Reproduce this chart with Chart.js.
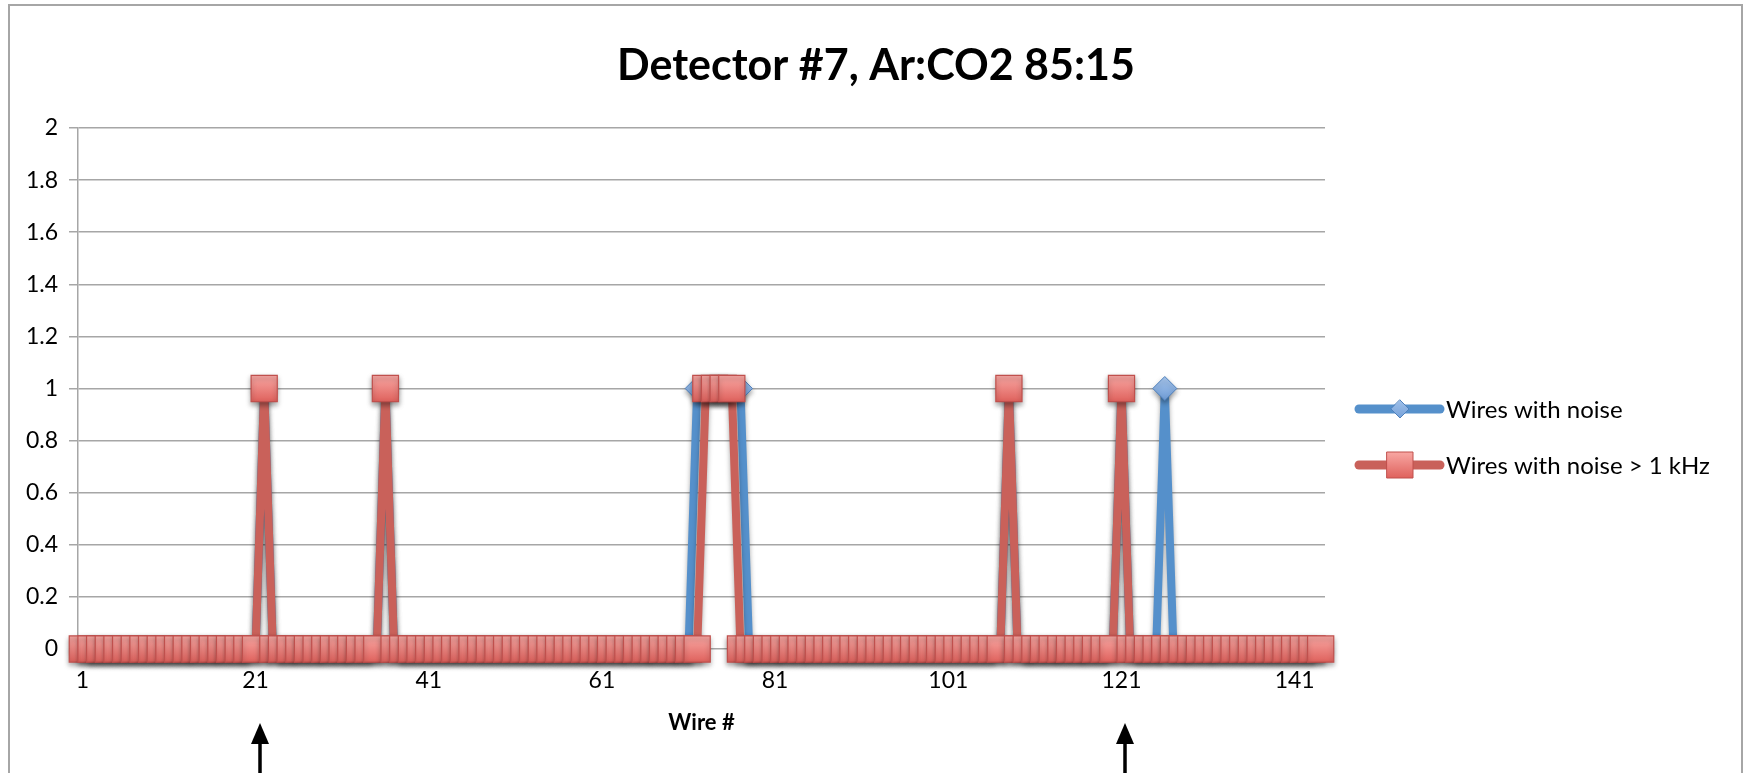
<!DOCTYPE html>
<html>
<head>
<meta charset="utf-8">
<title>Detector #7, Ar:CO2 85:15</title>
<script src="https://cdn.jsdelivr.net/npm/chart.js@4.4.1/dist/chart.umd.min.js"></script>
<style>
  html, body { margin: 0; padding: 0; background: #fff; }
  #wrap { width: 1745px; height: 773px; }
</style>
</head>
<body>
<div id="wrap"><canvas id="noiseChart" width="1745" height="773"></canvas></div>
<script>
// wire numbers 1..144 on the category axis
const WIRES = Array.from({ length: 144 }, (_, i) => i + 1);
const X_TICKS = [1, 21, 41, 61, 81, 101, 121, 141];
const ARROW_WIRES = [21, 121];

const TITLE = 'Detector #7, Ar:CO2 85:15';
const X_TITLE = 'Wire #';
const SERIES_NAMES = ['Wires with noise', 'Wires with noise > 1 kHz'];

// one value per wire, rows of ten (1-10, 11-20, ...)
const noiseAll = [
  0,0,0,0,0,0,0,0,0,0,
  0,0,0,0,0,0,0,0,0,0,
  0,1,0,0,0,0,0,0,0,0,
  0,0,0,0,0,1,0,0,0,0,
  0,0,0,0,0,0,0,0,0,0,
  0,0,0,0,0,0,0,0,0,0,
  0,0,0,0,0,0,0,0,0,0,
  0,1,1,1,1,1,1,0,0,0,
  0,0,0,0,0,0,0,0,0,0,
  0,0,0,0,0,0,0,0,0,0,
  0,0,0,0,0,0,0,1,0,0,
  0,0,0,0,0,0,0,0,0,0,
  1,0,0,0,0,1,0,0,0,0,
  0,0,0,0,0,0,0,0,0,0,
  0,0,0,0
];
const noiseHigh = [
  0,0,0,0,0,0,0,0,0,0,
  0,0,0,0,0,0,0,0,0,0,
  0,1,0,0,0,0,0,0,0,0,
  0,0,0,0,0,1,0,0,0,0,
  0,0,0,0,0,0,0,0,0,0,
  0,0,0,0,0,0,0,0,0,0,
  0,0,0,0,0,0,0,0,0,0,
  0,0,1,1,1,1,0,0,0,0,
  0,0,0,0,0,0,0,0,0,0,
  0,0,0,0,0,0,0,0,0,0,
  0,0,0,0,0,0,0,1,0,0,
  0,0,0,0,0,0,0,0,0,0,
  1,0,0,0,0,0,0,0,0,0,
  0,0,0,0,0,0,0,0,0,0,
  0,0,0,0
];

const Y_MIN = 0, Y_MAX = 2, Y_STEP = 0.2;

const BLUE = { line: '#5590CB', top: '#A8C7EE', bottom: '#6E9BD5', edge: '#4F81BD' };
const RED  = { line: '#C9615A', top: '#F8A7A3', bottom: '#DF625D', edge: '#C0504D' };
const FONT = 'Lato, "Open Sans", sans-serif';

Chart.defaults.font.family = FONT;
Chart.defaults.color = '#000';

// light-to-dark fill for each marker, built where the marker sits
function markerFill(c, half){
  return (context) => {
    const chart = context.chart;
    const ys = chart.scales && chart.scales.y;
    if (!ys || !context.parsed) return c.bottom;
    const y = ys.getPixelForValue(context.parsed.y);
    if (!isFinite(y)) return c.bottom;
    const g = chart.ctx.createLinearGradient(0, y - half, 0, y + half);
    g.addColorStop(0, c.top);
    g.addColorStop(1, c.bottom);
    return g;
  };
}

// frame, title, legend and the two arrows under the axis
const decor = {
  id: 'decor',
  beforeDraw(chart){
    const ctx = chart.ctx;
    ctx.save();
    ctx.fillStyle = '#fff';
    ctx.fillRect(0, 0, chart.width, chart.height);
    ctx.strokeStyle = '#a6a6a6';
    ctx.lineWidth = 2;
    ctx.strokeRect(9, 5, 1733, 820);
    ctx.restore();
  },
  beforeDatasetsDraw(chart){
    const ctx = chart.ctx;
    ctx.save();
    ctx.shadowColor = 'rgba(0,0,0,0.35)';
    ctx.shadowBlur = 5;
    ctx.shadowOffsetY = 3;
  },
  afterDatasetsDraw(chart){
    chart.ctx.restore();
  },
  afterDraw(chart){
    const ctx = chart.ctx;
    ctx.save();
    ctx.fillStyle = '#000';
    ctx.textAlign = 'center';
    ctx.textBaseline = 'middle';
    ctx.font = 'bold 43px ' + FONT;
    ctx.fillText(TITLE, 876, 66);

    // legend
    const rows = [
      { c: BLUE, style: 'diamond', y: 409 },
      { c: RED,  style: 'square',  y: 465 }
    ];
    rows.forEach((r, i) => {
      ctx.strokeStyle = r.c.line;
      ctx.lineWidth = 9;
      ctx.lineCap = 'round';
      ctx.beginPath();
      ctx.moveTo(1359, r.y);
      ctx.lineTo(1440, r.y);
      ctx.stroke();
      const g = ctx.createLinearGradient(0, r.y - 13, 0, r.y + 13);
      g.addColorStop(0, r.c.top);
      g.addColorStop(1, r.c.bottom);
      ctx.fillStyle = g;
      ctx.strokeStyle = r.c.edge;
      ctx.lineWidth = 1;
      ctx.beginPath();
      if (r.style === 'diamond'){
        ctx.moveTo(1400, r.y - 9); ctx.lineTo(1409, r.y);
        ctx.lineTo(1400, r.y + 9); ctx.lineTo(1391, r.y);
        ctx.closePath();
      } else {
        ctx.rect(1387, r.y - 13, 26, 26);
      }
      ctx.fill();
      ctx.stroke();
      ctx.fillStyle = '#000';
      ctx.textAlign = 'left';
      ctx.font = '24px ' + FONT;
      ctx.fillText(SERIES_NAMES[i], 1446, r.y + 1);
    });

    // arrows pointing at wires 21 and 121
    const xs = chart.scales.x;
    ctx.fillStyle = '#000';
    ctx.strokeStyle = '#000';
    ctx.lineWidth = 3.5;
    ctx.lineCap = 'butt';
    ARROW_WIRES.forEach(w => {
      const x = Math.round(xs.getPixelForValue(WIRES.indexOf(w))) + 4;
      ctx.beginPath();
      ctx.moveTo(x, 740);
      ctx.lineTo(x, 773);
      ctx.stroke();
      ctx.beginPath();
      ctx.moveTo(x, 723);
      ctx.lineTo(x + 9, 744);
      ctx.lineTo(x - 9, 744);
      ctx.closePath();
      ctx.fill();
    });
    ctx.restore();
  }
};

const ctx = document.getElementById('noiseChart').getContext('2d');
new Chart(ctx, {
  type: 'line',
  data: {
    labels: WIRES,
    datasets: [
      {
        label: SERIES_NAMES[0],
        data: noiseAll,
        order: 2,
        borderColor: BLUE.line,
        borderWidth: 8,
        borderJoinStyle: 'round',
        pointStyle: 'rectRot',
        pointRadius: 12,
        pointBackgroundColor: markerFill(BLUE, 12),
        pointBorderColor: BLUE.edge,
        pointBorderWidth: 1,
        tension: 0,
        clip: false
      },
      {
        label: SERIES_NAMES[1],
        data: noiseHigh,
        order: 1,
        borderColor: RED.line,
        borderWidth: 8,
        borderJoinStyle: 'round',
        pointStyle: 'rect',
        pointRadius: 18.5,
        pointBackgroundColor: markerFill(RED, 13),
        pointBorderColor: RED.edge,
        pointBorderWidth: 1.2,
        tension: 0,
        clip: false
      }
    ]
  },
  options: {
    responsive: false,
    animation: false,
    events: [],
    layout: { padding: { left: 0, right: 420, top: 128, bottom: 0 } },
    plugins: {
      legend: { display: false },
      title: { display: false },
      tooltip: { enabled: false }
    },
    scales: {
      x: {
        type: 'category',
        offset: true,
        grid: { display: false },
        border: { display: false },
        ticks: {
          autoSkip: false,
          maxRotation: 0,
          padding: 10,
          font: { size: 23 },
          color: '#000',
          callback(value, index){
            const w = WIRES[index];
            return X_TICKS.includes(w) ? String(w) : '';
          }
        },
        title: {
          display: true,
          text: X_TITLE,
          font: { size: 22, weight: 'bold' },
          color: '#000',
          padding: { top: 0, bottom: 37 }
        },
        afterFit(axis){ axis.height = 124; }
      },
      y: {
        min: Y_MIN,
        max: Y_MAX,
        grid: { color: '#a6a6a6', lineWidth: 1.5, tickLength: 9 },
        border: { color: '#a6a6a6', width: 1.5 },
        ticks: {
          stepSize: Y_STEP,
          padding: 11,
          font: { size: 23 },
          color: '#000',
          callback(v){ return String(Number(v.toFixed(1))); }
        },
        afterFit(axis){ axis.width = 78; }
      }
    }
  },
  plugins: [decor]
});
</script>
</body>
</html>
